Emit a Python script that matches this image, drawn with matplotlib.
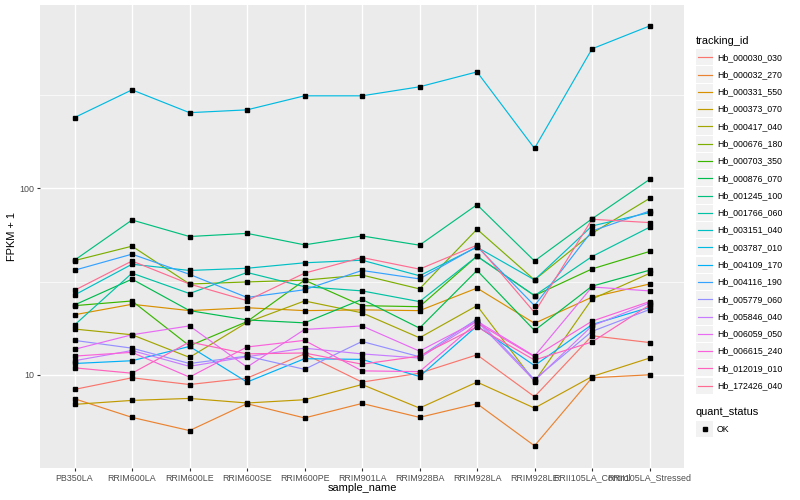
import numpy as np
import matplotlib
matplotlib.use("Agg")
import matplotlib.pyplot as plt
from matplotlib.patches import Rectangle

plt.rcParams['font.family'] = ['Liberation Sans', 'DejaVu Sans']

samples = ["PB350LA", "RRIM600LA", "RRIM600LE", "RRIM600SE", "RRIM600PE", "RRIM901LA",
           "RRIM928BA", "RRIM928LA", "RRIM928LE", "RRII105LA_Control", "RRII105LA_Stressed"]

tracking_ids = ["Hb_000030_030", "Hb_000032_270", "Hb_000331_550", "Hb_000373_070",
                "Hb_000417_040", "Hb_000676_180", "Hb_000703_350", "Hb_000876_070",
                "Hb_001245_100", "Hb_001766_060", "Hb_003151_040", "Hb_003787_010",
                "Hb_004109_170", "Hb_004116_190", "Hb_005779_060", "Hb_005846_040",
                "Hb_006059_050", "Hb_006615_240", "Hb_012019_010", "Hb_172426_040"]

# FPKM + 1 per sample
hb_000030_030 = [8.35, 9.64, 8.87, 9.60, 12.95, 9.14, 10.2, 12.8, 7.63, 16.2, 14.9]
hb_000032_270 = [7.44, 5.91, 5.02, 7.00, 5.87, 7.02, 5.91, 7.00, 4.16, 9.64, 10.0]
hb_000331_550 = [21.0, 23.9, 22.1, 22.9, 22.1, 22.3, 22.1, 29.2, 18.9, 26.1, 30.7]
hb_000373_070 = [6.94, 7.29, 7.47, 7.06, 7.35, 8.87, 6.63, 9.14, 6.63, 9.79, 12.3]
hb_000417_040 = [17.6, 16.4, 12.4, 19.1, 24.9, 21.5, 15.8, 23.5, 9.2, 25.5, 35.0]
hb_000676_180 = [41.0, 49.0, 30.7, 31.5, 32.2, 34.3, 28.9, 60.4, 32.3, 57.4, 88.4]
hb_000703_350 = [23.5, 24.9, 14.3, 19.3, 32.2, 23.5, 23.2, 43.3, 26.6, 37.0, 45.9]
hb_000876_070 = [23.7, 32.6, 22.1, 19.7, 19.0, 25.4, 17.8, 36.3, 17.3, 29.9, 36.4]
hb_001245_100 = [41.2, 67.7, 55.2, 57.4, 49.8, 55.6, 49.6, 81.8, 40.8, 68.7, 111.7]
hb_001766_060 = [18.5, 35.1, 27.3, 35.4, 29.7, 28.2, 24.7, 43.3, 26.6, 43.1, 61.9]
hb_003151_040 = [26.8, 39.2, 36.3, 37.3, 39.9, 41.2, 34.0, 48.4, 32.3, 62.9, 74.2]
hb_003787_010 = [240, 338, 255, 264, 314, 314, 351, 422, 164, 561, 744]
hb_004109_170 = [11.5, 11.9, 14.2, 9.14, 12.2, 12.1, 9.79, 18.3, 11.2, 18.6, 23.0]
hb_004116_190 = [36.4, 44.4, 34.6, 26.0, 28.6, 36.3, 32.7, 48.8, 23.5, 59.1, 75.6]
hb_005779_060 = [15.3, 13.9, 11.5, 12.6, 10.7, 15.1, 12.5, 19.9, 9.44, 17.1, 22.4]
hb_005846_040 = [11.9, 13.5, 11.1, 12.5, 13.9, 12.95, 12.3, 19.4, 9.29, 18.3, 24.3]
hb_006059_050 = [13.7, 16.4, 18.3, 11.0, 17.5, 18.3, 13.4, 19.4, 12.6, 29.6, 28.2]
hb_006615_240 = [12.6, 13.2, 9.72, 14.1, 15.3, 10.5, 10.4, 19.0, 12.5, 19.4, 24.7]
hb_012019_010 = [10.9, 10.2, 15.0, 12.95, 13.1, 11.4, 12.6, 18.1, 12.0, 15.0, 23.7]
hb_172426_040 = [28.4, 40.8, 30.7, 25.0, 35.1, 42.6, 36.9, 49.6, 21.6, 68.3, 65.6]

series = [hb_000030_030, hb_000032_270, hb_000331_550, hb_000373_070, hb_000417_040,
          hb_000676_180, hb_000703_350, hb_000876_070, hb_001245_100, hb_001766_060,
          hb_003151_040, hb_003787_010, hb_004109_170, hb_004116_190, hb_005779_060,
          hb_005846_040, hb_006059_050, hb_006615_240, hb_012019_010, hb_172426_040]

# ggplot hue palette, 20 levels
colors = ["#F8766D", "#EA8331", "#D89000", "#C09B00", "#A3A500", "#7CAE00", "#39B600",
          "#00BB4E", "#00BF7D", "#00C1A3", "#00BFC4", "#00BAE0", "#00B0F6", "#35A2FF",
          "#9590FF", "#C77CFF", "#E76BF3", "#FA62DB", "#FF62BC", "#FF6C91"]

fig = plt.figure(figsize=(8, 5), dpi=100)
ax = fig.add_axes([40 / 800, 1 - 468 / 500, 644 / 800, 463 / 500])
ax.set_facecolor("#EBEBEB")

x = np.arange(1, len(samples) + 1)
for vals, c in zip(series, colors):
    ax.plot(x, vals, color=c, lw=0.85, zorder=2)
for vals in series:
    ax.plot(x, vals, ls="none", marker="s", ms=2.8, color="black", zorder=3)

ax.set_yscale("log")
allv = np.log10(np.concatenate([np.array(s, float) for s in series]))
lo, hi = allv.min(), allv.max()
pad = 0.05 * (hi - lo)
ax.set_ylim(10 ** (lo - pad), 10 ** (hi + pad))
ax.set_xlim(0.4, len(samples) + 0.6)

ax.set_yticks([10, 100])
ax.set_yticklabels(["10", "100"])
ax.set_yticks([10 ** 0.5, 10 ** 1.5, 10 ** 2.5], minor=True)
ax.yaxis.set_minor_formatter(plt.NullFormatter())
ax.set_xticks(x)
ax.set_xticklabels(samples)

ax.grid(which="major", color="white", lw=1.0, zorder=0)
ax.grid(which="minor", axis="y", color="white", lw=0.5, zorder=0)
ax.set_axisbelow(True)
for s in ax.spines.values():
    s.set_visible(False)
ax.tick_params(which="major", length=2.5, width=0.8, color="#333333",
               labelcolor="#4D4D4D", labelsize=6.4, pad=1.5)
ax.tick_params(which="minor", length=0)

fig.text(12 / 800, 1 - 236.5 / 500, "FPKM + 1", rotation=90, ha="center", va="center",
         fontsize=7.9, color="black")
fig.text(362 / 800, 1 - 488 / 500, "sample_name", ha="center", va="center",
         fontsize=7.9, color="black")

# legend, drawn in pixel space
lax = fig.add_axes([0, 0, 1, 1])
lax.set_xlim(0, 800)
lax.set_ylim(500, 0)
lax.axis("off")

lax.text(696, 40.7, "tracking_id", ha="left", va="center", fontsize=7.9)
step = 17.28
for i, (name, c) in enumerate(zip(tracking_ids, colors)):
    yc = 57.3 + step * i
    lax.add_patch(Rectangle((696, yc - 8.1), 17, 16.2, facecolor="#F2F2F2", edgecolor="none"))
    lax.plot([698, 711.5], [yc, yc], color=c, lw=0.85)
    lax.text(717, yc, name, ha="left", va="center", fontsize=6.3)

lax.text(696, 412.3, "quant_status", ha="left", va="center", fontsize=7.9)
lax.add_patch(Rectangle((696, 429.3 - 8.1), 17, 16.2, facecolor="#F2F2F2", edgecolor="none"))
lax.plot([704.5], [429.3], marker="s", ms=2.8, color="black", ls="none")
lax.text(717, 429.3, "OK", ha="left", va="center", fontsize=6.3)

fig.savefig("out.png", dpi=100)
